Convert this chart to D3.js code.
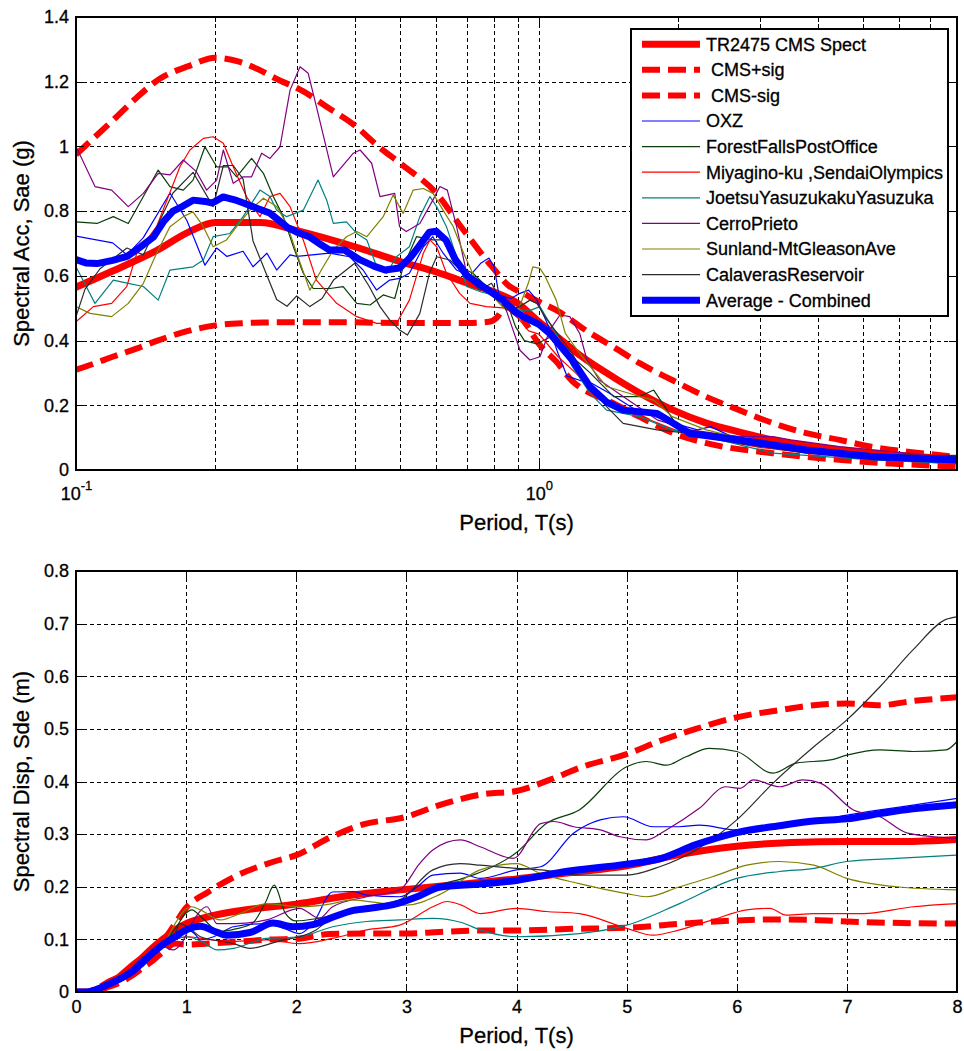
<!DOCTYPE html>
<html>
<head>
<meta charset="utf-8">
<script src="https://cdn.jsdelivr.net/npm/d3@7"></script>
<style>
  body { margin: 0; background: #fff; }
  svg text { font-family: "Liberation Sans", Arial, sans-serif; fill: #000; stroke: #000; stroke-width: 0.3px; }
</style>
</head>
<body>
<svg id="chart" width="964" height="1051"></svg>
<script>
// ---------------------------------------------------------------
// Series names (legend order = drawing order)
// ---------------------------------------------------------------
const seriesNames = [
  "TR2475 CMS Spect", " CMS+sig", " CMS-sig", "OXZ", "ForestFallsPostOffice",
  "Miyagino-ku ,SendaiOlympics", "JoetsuYasuzukakuYasuzuka", "CerroPrieto",
  "Sunland-MtGleasonAve", "CalaverasReservoir", "Average - Combined"
];

// ---------------------------------------------------------------
// Spectral acceleration Sae (g) vs period T (s): [T, Sa]
// ---------------------------------------------------------------
const accCms = [[0.1,0.565],[0.12,0.615],[0.15,0.68],[0.175,0.735],[0.2,0.765],[0.25,0.765],[0.3,0.74],[0.4,0.69],[0.5,0.645],[0.6,0.612],[0.7,0.578],[0.8,0.55],[0.9,0.515],[1.0,0.458],[1.1,0.41],[1.2,0.365],[1.4,0.3],[1.65,0.238],[1.95,0.185],[2.3,0.145],[2.7,0.118],[3.2,0.093],[4.5,0.062],[6,0.046],[7.3,0.037],[8,0.033]];
const accCmsPlus = [[0.1,0.975],[0.11,1.03],[0.12,1.08],[0.135,1.15],[0.152,1.21],[0.175,1.248],[0.2,1.274],[0.225,1.262],[0.246,1.24],[0.27,1.21],[0.31,1.17],[0.35,1.12],[0.4,1.065],[0.45,1.0],[0.51,0.94],[0.6,0.856],[0.68,0.75],[0.79,0.63],[0.86,0.57],[0.925,0.546],[1.0,0.52],[1.09,0.494],[1.29,0.423],[1.45,0.38],[1.65,0.33],[1.94,0.278],[2.3,0.226],[2.71,0.185],[3.2,0.145],[3.78,0.114],[4.46,0.093],[5.27,0.071],[6.7,0.052],[8,0.04]];
const accCmsMinus = [[0.1,0.31],[0.11,0.33],[0.12,0.35],[0.135,0.375],[0.15,0.4],[0.17,0.425],[0.2,0.447],[0.23,0.454],[0.26,0.456],[0.3,0.457],[0.37,0.457],[0.45,0.455],[0.55,0.454],[0.7,0.454],[0.78,0.458],[0.81,0.47],[0.84,0.505],[0.86,0.525],[0.88,0.52],[0.91,0.485],[1.0,0.39],[1.09,0.335],[1.18,0.275],[1.3,0.235],[1.4,0.216],[1.65,0.164],[1.95,0.114],[2.3,0.083],[3.2,0.052],[4.5,0.031],[8,0.01]];
const accOXZ = [[0.1,0.723],[0.12,0.702],[0.1288,0.665],[0.1398,0.718],[0.1596,0.856],[0.1736,0.771],[0.1899,0.633],[0.2013,0.686],[0.2119,0.66],[0.2296,0.676],[0.2412,0.628],[0.2585,0.67],[0.2713,0.618],[0.29,0.665],[0.2997,0.66],[0.353,0.67],[0.39,0.659],[0.417,0.618],[0.446,0.556],[0.476,0.587],[0.5,0.592],[0.525,0.608],[0.563,0.69],[0.59,0.721],[0.621,0.67],[0.664,0.618],[0.709,0.6],[0.75,0.64],[0.78,0.655],[0.8,0.628],[0.82,0.54],[0.87,0.53],[0.91,0.546],[0.95,0.556],[0.99,0.525],[1.05,0.443],[1.1,0.36],[1.15,0.29],[1.22,0.278],[1.3,0.268],[1.42,0.237],[1.6,0.19],[1.9,0.15],[2.2,0.124],[2.35,0.134],[2.7,0.093],[3.5,0.07],[5,0.045],[8,0.03]];
const accForestFalls = [[0.1,0.767],[0.111,0.762],[0.1204,0.783],[0.1297,0.762],[0.1505,0.927],[0.1596,0.876],[0.1705,0.865],[0.179,0.896],[0.1899,0.999],[0.2013,0.937],[0.2132,0.937],[0.2223,0.906],[0.2395,0.963],[0.254,0.917],[0.2668,0.845],[0.2805,0.783],[0.2948,0.69],[0.3097,0.608],[0.3254,0.561],[0.3538,0.561],[0.3777,0.567],[0.4041,0.515],[0.4318,0.51],[0.4609,0.541],[0.4881,0.53],[0.5089,0.628],[0.5439,0.721],[0.5905,0.711],[0.6313,0.711],[0.675,0.628],[0.72,0.608],[0.785,0.556],[0.85,0.525],[0.89,0.443],[0.93,0.4],[0.99,0.39],[1.056,0.41],[1.11,0.39],[1.18,0.35],[1.29,0.3],[1.45,0.227],[1.65,0.227],[1.77,0.247],[1.87,0.196],[2.0,0.13],[2.7,0.093],[3.5,0.07],[5.27,0.05],[8,0.041]];
const accMiyagino = [[0.1,0.458],[0.109,0.505],[0.1194,0.515],[0.1287,0.567],[0.1353,0.67],[0.1493,0.752],[0.1677,0.937],[0.1762,0.989],[0.1884,1.025],[0.1978,1.03],[0.2081,1.01],[0.2186,0.937],[0.2334,0.845],[0.2497,0.783],[0.2624,0.845],[0.2759,0.855],[0.29,0.814],[0.3097,0.711],[0.3306,0.587],[0.3656,0.515],[0.4041,0.474],[0.4462,0.453],[0.4923,0.453],[0.525,0.525],[0.5627,0.67],[0.5814,0.711],[0.6013,0.69],[0.6313,0.608],[0.674,0.546],[0.71,0.515],[0.77,0.505],[0.85,0.5],[0.9,0.47],[0.95,0.43],[1.0,0.42],[1.1,0.35],[1.2,0.3],[1.3,0.25],[1.5,0.19],[1.7,0.16],[2,0.12],[2.5,0.09],[3,0.07],[4,0.05],[5,0.035],[6,0.028],[8,0.02]];
const accJoetsu = [[0.1,0.628],[0.1099,0.515],[0.1204,0.587],[0.1297,0.577],[0.1398,0.567],[0.1505,0.525],[0.1596,0.618],[0.179,0.628],[0.1884,0.649],[0.1978,0.721],[0.215,0.731],[0.2296,0.783],[0.2497,0.865],[0.2624,0.845],[0.2713,0.803],[0.2851,0.783],[0.3097,0.803],[0.3333,0.896],[0.348,0.834],[0.3596,0.762],[0.3839,0.767],[0.4041,0.731],[0.4249,0.711],[0.4462,0.628],[0.4689,0.608],[0.4923,0.659],[0.525,0.69],[0.553,0.783],[0.5814,0.845],[0.6013,0.814],[0.6313,0.752],[0.6637,0.659],[0.698,0.567],[0.75,0.55],[0.8,0.54],[0.85,0.52],[0.91,0.494],[0.96,0.494],[1.005,0.505],[1.09,0.42],[1.18,0.32],[1.29,0.237],[1.4,0.185],[1.65,0.165],[1.94,0.124],[2.3,0.103],[3.2,0.052],[5.27,0.031],[8,0.02]];
const accCerroPrieto = [[0.1,1.0],[0.1099,0.876],[0.1194,0.865],[0.1297,0.814],[0.1398,0.855],[0.1505,0.917],[0.1596,0.912],[0.1705,0.958],[0.182,0.922],[0.1915,0.865],[0.2013,0.896],[0.2081,0.989],[0.2186,0.886],[0.2296,0.906],[0.2395,0.906],[0.2518,0.979],[0.2624,0.963],[0.2759,0.999],[0.29,1.174],[0.3048,1.246],[0.3174,1.226],[0.3306,1.123],[0.3596,0.906],[0.3973,0.979],[0.4109,0.989],[0.4352,0.948],[0.4536,0.845],[0.488,0.855],[0.5,0.752],[0.517,0.737],[0.553,0.762],[0.59,0.834],[0.611,0.876],[0.634,0.865],[0.664,0.752],[0.698,0.608],[0.72,0.577],[0.785,0.546],[0.85,0.494],[0.91,0.37],[0.956,0.34],[1.005,0.35],[1.056,0.433],[1.11,0.479],[1.166,0.474],[1.225,0.422],[1.27,0.34],[1.35,0.278],[1.52,0.227],[1.8,0.155],[2.12,0.124],[2.71,0.103],[3.2,0.103],[3.5,0.093],[4.46,0.072],[6.2,0.052],[8,0.036]];
const accSunland = [[0.1,0.505],[0.1072,0.484],[0.1194,0.474],[0.1297,0.515],[0.1398,0.577],[0.1493,0.67],[0.1596,0.752],[0.1705,0.783],[0.179,0.798],[0.1884,0.752],[0.1978,0.69],[0.2114,0.711],[0.2223,0.752],[0.2375,0.803],[0.254,0.84],[0.2713,0.814],[0.2851,0.762],[0.2997,0.67],[0.32,0.556],[0.342,0.628],[0.3596,0.68],[0.3839,0.721],[0.4041,0.737],[0.4249,0.721],[0.4609,0.783],[0.4843,0.85],[0.5089,0.793],[0.535,0.865],[0.5627,0.87],[0.5905,0.855],[0.6207,0.803],[0.6531,0.752],[0.6876,0.67],[0.73,0.587],[0.78,0.55],[0.84,0.5],[0.9,0.49],[0.95,0.58],[0.97,0.628],[1.005,0.623],[1.03,0.6],[1.09,0.525],[1.14,0.422],[1.225,0.36],[1.29,0.32],[1.4,0.258],[1.65,0.227],[1.77,0.216],[1.94,0.165],[2.3,0.124],[3.2,0.072],[5.27,0.041],[8,0.026]];
const accCalaveras = [[0.1,0.474],[0.1046,0.559],[0.1127,0.622],[0.1288,0.686],[0.1398,0.665],[0.162,0.856],[0.179,0.92],[0.1978,0.814],[0.2081,0.941],[0.2186,0.941],[0.2296,0.899],[0.2412,0.708],[0.2585,0.601],[0.2713,0.527],[0.2856,0.506],[0.2997,0.538],[0.32,0.505],[0.34,0.53],[0.36,0.587],[0.4,0.639],[0.43,0.567],[0.4536,0.505],[0.476,0.464],[0.5,0.433],[0.52,0.417],[0.553,0.484],[0.58,0.608],[0.6013,0.659],[0.642,0.649],[0.6876,0.608],[0.746,0.556],[0.79,0.577],[0.85,0.494],[0.91,0.505],[0.956,0.525],[0.99,0.515],[1.03,0.474],[1.056,0.453],[1.18,0.36],[1.29,0.258],[1.4,0.196],[1.52,0.144],[1.8,0.124],[2.12,0.113],[2.71,0.082],[3.78,0.052],[5.27,0.043],[8,0.045]];
const accAverage = [[0.1,0.65],[0.105,0.64],[0.111,0.638],[0.12,0.648],[0.129,0.66],[0.138,0.69],[0.147,0.72],[0.155,0.77],[0.162,0.8],[0.17,0.815],[0.179,0.834],[0.19,0.83],[0.197,0.825],[0.208,0.844],[0.22,0.835],[0.23,0.825],[0.245,0.81],[0.262,0.794],[0.275,0.77],[0.286,0.75],[0.3,0.735],[0.32,0.72],[0.335,0.7],[0.353,0.68],[0.38,0.68],[0.41,0.65],[0.44,0.63],[0.465,0.618],[0.5,0.624],[0.53,0.66],[0.55,0.69],[0.58,0.735],[0.6,0.738],[0.63,0.71],[0.66,0.65],[0.7,0.6],[0.77,0.56],[0.836,0.525],[0.89,0.488],[0.925,0.474],[1.0,0.45],[1.056,0.422],[1.18,0.34],[1.29,0.257],[1.4,0.21],[1.52,0.185],[1.8,0.175],[2.12,0.113],[2.71,0.093],[3.78,0.062],[5.27,0.041],[8,0.031]];

// ---------------------------------------------------------------
// Spectral displacement Sde (m) vs period T (s): [T, Sd]
// ---------------------------------------------------------------
const dispCms = [[0,0],[0.1,0],[0.2,0.005],[0.3,0.015],[0.4,0.03],[0.5,0.048],[0.6,0.065],[0.7,0.085],[0.8,0.102],[0.9,0.118],[1.0,0.13],[1.2,0.143],[1.5,0.155],[2,0.167],[2.5,0.184],[3,0.195],[3.5,0.205],[4,0.215],[4.5,0.227],[5,0.24],[5.5,0.262],[6,0.277],[6.5,0.284],[7,0.286],[7.5,0.286],[8,0.29]];
const dispCmsPlus = [[0,0],[0.1,0],[0.2,0.008],[0.3,0.02],[0.4,0.03],[0.5,0.044],[0.6,0.06],[0.7,0.08],[0.8,0.1],[0.9,0.13],[1.0,0.16],[1.2,0.19],[1.5,0.225],[1.8,0.248],[2.0,0.26],[2.3,0.293],[2.6,0.318],[3.0,0.333],[3.3,0.355],[3.7,0.376],[4.0,0.382],[4.3,0.403],[4.6,0.428],[5.0,0.452],[5.3,0.477],[5.6,0.498],[6.0,0.522],[6.4,0.536],[6.7,0.545],[7.0,0.548],[7.3,0.545],[7.6,0.553],[8.0,0.56]];
const dispCmsMinus = [[0,0],[0.1,0],[0.2,0.003],[0.3,0.01],[0.4,0.018],[0.5,0.03],[0.6,0.045],[0.7,0.06],[0.8,0.078],[0.9,0.092],[1.0,0.09],[1.2,0.092],[1.5,0.096],[1.8,0.1],[2.0,0.101],[2.3,0.11],[2.6,0.111],[3.0,0.111],[3.3,0.114],[3.7,0.117],[4.0,0.117],[4.5,0.12],[5.0,0.122],[5.5,0.13],[6.0,0.136],[6.4,0.138],[6.7,0.137],[7.0,0.134],[7.5,0.131],[8.0,0.13]];
const dispOXZ = [[0,0],[0.1,0.001],[0.2,0.005],[0.3,0.015],[0.4,0.028],[0.5,0.04],[0.6,0.06],[0.7,0.075],[0.8,0.09],[0.9,0.1],[1.0,0.12],[1.08,0.11],[1.13,0.099],[1.25,0.105],[1.43,0.124],[1.73,0.13],[1.9,0.12],[2.03,0.111],[2.15,0.13],[2.33,0.19],[2.52,0.191],[2.64,0.184],[2.94,0.181],[3.1,0.2],[3.24,0.222],[3.49,0.226],[3.67,0.216],[4.0,0.232],[4.22,0.238],[4.52,0.302],[4.76,0.327],[4.97,0.333],[5.24,0.314],[5.48,0.314],[5.66,0.317],[6.0,0.308],[6.3,0.31],[6.7,0.324],[7.0,0.336],[7.3,0.346],[7.6,0.355],[8,0.368]];
const dispForestFalls = [[0,0],[0.1,0.001],[0.2,0.006],[0.3,0.016],[0.4,0.03],[0.5,0.045],[0.6,0.065],[0.7,0.08],[0.8,0.095],[0.9,0.12],[1.0,0.15],[1.05,0.156],[1.15,0.14],[1.3,0.115],[1.45,0.12],[1.6,0.13],[1.72,0.17],[1.8,0.203],[1.9,0.15],[2.0,0.135],[2.2,0.14],[2.4,0.148],[2.64,0.156],[2.94,0.168],[3.24,0.2],[3.5,0.215],[3.7,0.23],[4.0,0.265],[4.27,0.32],[4.57,0.346],[5.0,0.428],[5.18,0.438],[5.36,0.431],[5.54,0.447],[5.75,0.463],[6.0,0.457],[6.33,0.416],[6.54,0.435],[6.85,0.441],[7.0,0.45],[7.3,0.46],[7.6,0.457],[7.9,0.46],[8,0.476]];
const dispMiyagino = [[0,0],[0.1,0.001],[0.2,0.005],[0.3,0.013],[0.4,0.025],[0.5,0.038],[0.6,0.055],[0.7,0.072],[0.8,0.088],[0.9,0.1],[1.0,0.105],[1.2,0.1],[1.43,0.096],[1.73,0.099],[2.03,0.092],[2.33,0.102],[2.64,0.118],[2.94,0.127],[3.24,0.162],[3.37,0.172],[3.5,0.165],[3.67,0.149],[4.0,0.159],[4.27,0.153],[4.57,0.149],[5.0,0.121],[5.24,0.108],[5.48,0.118],[5.78,0.137],[6.09,0.156],[6.3,0.159],[6.45,0.146],[6.7,0.149],[7.15,0.149],[7.6,0.162],[8,0.168]];
const dispJoetsu = [[0,0],[0.1,0.001],[0.2,0.005],[0.3,0.014],[0.4,0.027],[0.5,0.04],[0.6,0.06],[0.7,0.075],[0.8,0.09],[0.9,0.1],[1.0,0.105],[1.15,0.095],[1.28,0.08],[1.43,0.083],[1.73,0.102],[2.03,0.105],[2.33,0.124],[2.64,0.134],[2.94,0.137],[3.24,0.14],[3.5,0.132],[3.67,0.118],[4.0,0.105],[4.57,0.111],[5.0,0.127],[5.48,0.168],[6.0,0.216],[6.39,0.229],[6.7,0.235],[7.0,0.248],[7.45,0.254],[8,0.26]];
const dispCerroPrieto = [[0,0],[0.1,0.001],[0.2,0.006],[0.3,0.016],[0.4,0.03],[0.5,0.045],[0.6,0.065],[0.7,0.075],[0.8,0.085],[0.88,0.08],[0.95,0.09],[1.05,0.13],[1.19,0.162],[1.28,0.13],[1.45,0.13],[1.73,0.137],[2.03,0.159],[2.21,0.14],[2.33,0.162],[2.64,0.181],[2.94,0.194],[3.12,0.244],[3.24,0.27],[3.49,0.289],[3.67,0.276],[3.97,0.254],[4.22,0.32],[4.34,0.324],[4.52,0.314],[4.76,0.308],[4.94,0.295],[5.18,0.289],[5.36,0.308],[5.66,0.349],[5.9,0.39],[6.03,0.387],[6.15,0.403],[6.39,0.39],[6.6,0.403],[6.76,0.397],[7.06,0.346],[7.3,0.333],[7.55,0.302],[8,0.292]];
const dispSunland = [[0,0],[0.1,0.001],[0.2,0.006],[0.3,0.016],[0.4,0.028],[0.5,0.042],[0.6,0.062],[0.7,0.078],[0.8,0.092],[0.9,0.13],[1.0,0.158],[1.05,0.162],[1.13,0.156],[1.31,0.137],[1.5,0.15],[1.73,0.168],[2.03,0.162],[2.33,0.168],[2.5,0.175],[2.8,0.168],[3.0,0.165],[3.3,0.185],[3.67,0.232],[4.0,0.244],[4.22,0.225],[4.57,0.206],[5.0,0.187],[5.18,0.181],[5.48,0.2],[5.78,0.219],[6.09,0.241],[6.39,0.248],[6.7,0.241],[7.0,0.216],[7.45,0.2],[8,0.194]];
const dispCalaveras = [[0,0],[0.1,0.001],[0.2,0.005],[0.3,0.013],[0.4,0.025],[0.5,0.038],[0.6,0.058],[0.7,0.075],[0.8,0.09],[0.9,0.11],[0.94,0.13],[1.05,0.118],[1.13,0.105],[1.43,0.092],[1.58,0.083],[1.88,0.099],[2.03,0.105],[2.18,0.118],[2.33,0.143],[2.64,0.162],[2.94,0.175],[3.24,0.232],[3.49,0.244],[3.67,0.241],[4.0,0.235],[4.22,0.232],[4.57,0.222],[5.0,0.222],[5.3,0.238],[5.63,0.27],[6.0,0.327],[6.33,0.397],[6.7,0.466],[7.0,0.517],[7.3,0.58],[7.6,0.65],[7.9,0.708],[8,0.713]];
const dispAverage = [[0,0],[0.1,0],[0.2,0.006],[0.3,0.015],[0.4,0.025],[0.5,0.037],[0.6,0.055],[0.7,0.075],[0.8,0.092],[0.9,0.105],[1.0,0.118],[1.13,0.125],[1.25,0.116],[1.37,0.108],[1.58,0.113],[1.79,0.131],[1.97,0.124],[2.15,0.128],[2.33,0.142],[2.52,0.155],[2.7,0.16],[2.88,0.166],[3.12,0.183],[3.3,0.199],[3.67,0.205],[4,0.212],[4.42,0.228],[5,0.243],[5.3,0.253],[5.63,0.28],[6,0.303],[6.39,0.316],[6.7,0.325],[7,0.329],[7.3,0.339],[7.6,0.348],[8,0.356]];

// ---------------------------------------------------------------
// Tick values and labels
// ---------------------------------------------------------------
const accYTicks = [0, 0.2, 0.4, 0.6, 0.8, 1, 1.2, 1.4];
const accYLabels = ["0", "0.2", "0.4", "0.6", "0.8", "1", "1.2", "1.4"];
const accXMajor = [0.1, 1];
const accXMajorExp = ["-1", "0"];
const accXMinor = [0.2, 0.3, 0.4, 0.5, 0.6, 0.7, 0.8, 0.9, 2, 3, 4, 5, 6, 7, 8];
const dispYTicks = [0, 0.1, 0.2, 0.3, 0.4, 0.5, 0.6, 0.7, 0.8];
const dispYLabels = ["0", "0.1", "0.2", "0.3", "0.4", "0.5", "0.6", "0.7", "0.8"];
const dispXTicks = [0, 1, 2, 3, 4, 5, 6, 7, 8];

const accData = [accCms, accCmsPlus, accCmsMinus, accOXZ, accForestFalls, accMiyagino,
  accJoetsu, accCerroPrieto, accSunland, accCalaveras, accAverage];
const dispData = [dispCms, dispCmsPlus, dispCmsMinus, dispOXZ, dispForestFalls, dispMiyagino,
  dispJoetsu, dispCerroPrieto, dispSunland, dispCalaveras, dispAverage];

// Line styles per series (same order as names)
const lineStyles = [
  { color: "#ff0000", width: 7,   dash: null,   smooth: true  },
  { color: "#ff0000", width: 6,   dash: "18,8", smooth: true  },
  { color: "#ff0000", width: 6,   dash: "18,8", smooth: true  },
  { color: "#0000ff", width: 1.2, dash: null,   smooth: false },
  { color: "#0a3d0a", width: 1.2, dash: null,   smooth: false },
  { color: "#ff0000", width: 1.2, dash: null,   smooth: false },
  { color: "#008080", width: 1.2, dash: null,   smooth: false },
  { color: "#800080", width: 1.2, dash: null,   smooth: false },
  { color: "#808000", width: 1.2, dash: null,   smooth: false },
  { color: "#2b2b2b", width: 1.2, dash: null,   smooth: false },
  { color: "#0000ff", width: 7,   dash: null,   smooth: false }
];

const FONT = '"Liberation Sans", Arial, sans-serif';
const svg = d3.select("#chart");
svg.append("rect").attr("width", 964).attr("height", 1051).attr("fill", "#fff");

const L = 76, R = 957;
const px = v => Math.round(v) + 0.5;   // snap 1px strokes to the pixel grid

function styleAxis(g) {
  g.select(".domain").remove();
  g.attr("font-family", FONT).attr("font-size", 18);
  g.selectAll(".tick line").attr("stroke", "#000").attr("stroke-width", 1)
    .attr("shape-rendering", "crispEdges");
}

function drawPanel(opts) {
  const { x, y, top, bottom, id, data, smoothCurve } = opts;
  const g = svg.append("g");

  // clip region for the curves
  svg.append("clipPath").attr("id", id)
    .append("rect").attr("x", L).attr("y", top).attr("width", R - L).attr("height", bottom - top);

  // dashed grid
  const grid = g.append("g").attr("stroke", "#000").attr("stroke-width", 1)
    .attr("stroke-dasharray", "4,3").attr("shape-rendering", "crispEdges");
  opts.gridX.forEach(v => {
    grid.append("line").attr("x1", px(x(v))).attr("x2", px(x(v))).attr("y1", top).attr("y2", bottom);
  });
  opts.gridY.forEach(v => {
    grid.append("line").attr("x1", L).attr("x2", R).attr("y1", px(y(v))).attr("y2", px(y(v)));
  });

  // curves
  const curves = g.append("g").attr("clip-path", `url(#${id})`);
  data.forEach((series, i) => {
    const st = lineStyles[i];
    const line = d3.line()
      .x(d => x(d[0])).y(d => y(d[1]))
      .curve(st.smooth || smoothCurve ? d3.curveMonotoneX : d3.curveLinear);
    curves.append("path")
      .attr("d", line(series))
      .attr("fill", "none")
      .attr("stroke", st.color)
      .attr("stroke-width", st.width)
      .attr("stroke-linejoin", "round")
      .attr("stroke-linecap", st.dash ? "butt" : "round")
      .attr("stroke-dasharray", st.dash);
  });

  // box
  g.append("rect").attr("x", L).attr("y", top).attr("width", R - L).attr("height", bottom - top)
    .attr("fill", "none").attr("stroke", "#000").attr("stroke-width", 2)
    .attr("shape-rendering", "crispEdges");
  return g;
}

// ---------------------------------------------------------------
// Top panel: spectral acceleration, log period axis
// ---------------------------------------------------------------
const accTop = 17, accBottom = 470;
const xAcc = d3.scaleLog().domain([0.1, 8]).range([L, R]);
const yAcc = d3.scaleLinear().domain([0, 1.4]).range([accBottom, accTop]);

drawPanel({
  x: xAcc, y: yAcc, top: accTop, bottom: accBottom, id: "clipAcc", data: accData,
  smoothCurve: false,
  gridX: accXMinor.concat([1]),
  gridY: accYTicks.filter(v => v > 0 && v < 1.4)
});

// y axis (left labels, right ticks)
svg.append("g").attr("transform", `translate(${L},0)`)
  .call(d3.axisLeft(yAcc).tickValues(accYTicks).tickSizeInner(-8).tickSizeOuter(0).tickPadding(7)
    .tickFormat((d, i) => accYLabels[i]))
  .call(styleAxis);
svg.append("g").attr("transform", `translate(${R},0)`)
  .call(d3.axisRight(yAcc).tickValues(accYTicks).tickSizeInner(-8).tickSizeOuter(0).tickFormat(""))
  .call(styleAxis);

// x axis: major decades with 10^n labels, minor ticks without labels
const accXAxis = svg.append("g").attr("transform", `translate(0,${accBottom})`)
  .call(d3.axisBottom(xAcc).tickValues(accXMajor).tickSizeInner(-8).tickSizeOuter(0).tickPadding(17)
    .tickFormat(() => ""))
  .call(styleAxis);
accXAxis.selectAll(".tick text").each(function (d, i) {
  const t = d3.select(this);
  t.append("tspan").text("10");
  t.append("tspan").attr("font-size", 13).attr("dy", "-0.75em").text(accXMajorExp[i]);
});
svg.append("g").attr("transform", `translate(0,${accBottom})`)
  .call(d3.axisBottom(xAcc).tickValues(accXMinor).tickSizeInner(-5).tickSizeOuter(0).tickFormat(""))
  .call(styleAxis);
svg.append("g").attr("transform", `translate(0,${accTop})`)
  .call(d3.axisTop(xAcc).tickValues(accXMajor).tickSizeInner(-8).tickSizeOuter(0).tickFormat(""))
  .call(styleAxis);
svg.append("g").attr("transform", `translate(0,${accTop})`)
  .call(d3.axisTop(xAcc).tickValues(accXMinor).tickSizeInner(-5).tickSizeOuter(0).tickFormat(""))
  .call(styleAxis);

svg.append("text").attr("x", (L + R) / 2).attr("y", 530).attr("text-anchor", "middle")
  .attr("font-size", 22).text("Period, T(s)");
svg.append("text").attr("transform", `translate(29,${(accTop + accBottom) / 2}) rotate(-90)`)
  .attr("text-anchor", "middle").attr("font-size", 22).text("Spectral Acc, Sae (g)");

// legend
const legend = svg.append("g");
legend.append("rect").attr("x", 631).attr("y", 29).attr("width", 317).attr("height", 287)
  .attr("fill", "#fff").attr("stroke", "#000").attr("stroke-width", 2)
  .attr("shape-rendering", "crispEdges");
seriesNames.forEach((name, i) => {
  const st = lineStyles[i];
  const yy = 44.2 + i * 25.6;
  legend.append("line").attr("x1", 642).attr("x2", 700).attr("y1", yy).attr("y2", yy)
    .attr("stroke", st.color).attr("stroke-width", st.width)
    .attr("stroke-dasharray", st.dash);
  legend.append("text").attr("x", 706).attr("y", yy).attr("dy", "0.35em")
    .attr("font-size", 18).style("white-space", "pre").text(name);
});

// ---------------------------------------------------------------
// Bottom panel: spectral displacement, linear period axis
// ---------------------------------------------------------------
const dispTop = 571, dispBottom = 992;
const xDisp = d3.scaleLinear().domain([0, 8]).range([L, R]);
const yDisp = d3.scaleLinear().domain([0, 0.8]).range([dispBottom, dispTop]);

drawPanel({
  x: xDisp, y: yDisp, top: dispTop, bottom: dispBottom, id: "clipDisp", data: dispData,
  smoothCurve: true,
  gridX: dispXTicks.filter(v => v > 0 && v < 8),
  gridY: dispYTicks.filter(v => v > 0 && v < 0.8)
});

svg.append("g").attr("transform", `translate(${L},0)`)
  .call(d3.axisLeft(yDisp).tickValues(dispYTicks).tickSizeInner(-8).tickSizeOuter(0).tickPadding(7)
    .tickFormat((d, i) => dispYLabels[i]))
  .call(styleAxis);
svg.append("g").attr("transform", `translate(${R},0)`)
  .call(d3.axisRight(yDisp).tickValues(dispYTicks).tickSizeInner(-8).tickSizeOuter(0).tickFormat(""))
  .call(styleAxis);
svg.append("g").attr("transform", `translate(0,${dispBottom})`)
  .call(d3.axisBottom(xDisp).tickValues(dispXTicks).tickSizeInner(-8).tickSizeOuter(0).tickPadding(8)
    .tickFormat(d3.format("d")))
  .call(styleAxis);
svg.append("g").attr("transform", `translate(0,${dispTop})`)
  .call(d3.axisTop(xDisp).tickValues(dispXTicks).tickSizeInner(-8).tickSizeOuter(0).tickFormat(""))
  .call(styleAxis);

svg.append("text").attr("x", (L + R) / 2).attr("y", 1043).attr("text-anchor", "middle")
  .attr("font-size", 22).text("Period, T(s)");
svg.append("text").attr("transform", `translate(29,${(dispTop + dispBottom) / 2}) rotate(-90)`)
  .attr("text-anchor", "middle").attr("font-size", 22).text("Spectral Disp, Sde (m)");
</script>
</body>
</html>
